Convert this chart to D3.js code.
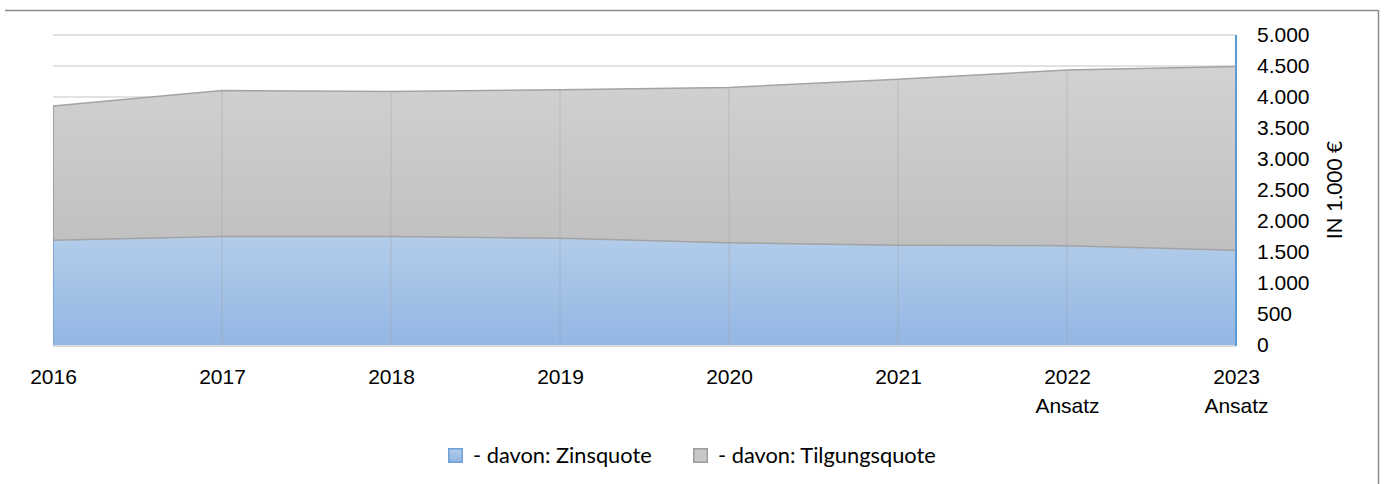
<!DOCTYPE html>
<html>
<head>
<meta charset="utf-8">
<script src="https://cdn.jsdelivr.net/npm/d3@7"></script>
<style>
  body { margin: 0; background: #fff; }
  svg { display: block; font-family: Lato, "Open Sans", sans-serif; }
  .axis path, .axis line { display: none; }
  .axis text { fill: #000; font-size: 21px; }
</style>
</head>
<body>
<div class="AreaChart"></div>
<script>
var years = ["2016", "2017", "2018", "2019", "2020", "2021", "2022", "2023"];
var yearNotes = ["", "", "", "", "", "", "Ansatz", "Ansatz"];
var zinsquote = [1690, 1750, 1750, 1720, 1650, 1610, 1600, 1530];
var tilgungsquote = [2165, 2355, 2340, 2395, 2505, 2675, 2835, 2960];
var yTicks = [0, 500, 1000, 1500, 2000, 2500, 3000, 3500, 4000, 4500, 5000];
var seriesNames = ["- davon: Zinsquote", "- davon: Tilgungsquote"];

var W = 1387, H = 484;
var margin = {top: 35, left: 53, right: W - 1236, bottom: H - 345};

var svg = d3.select(".AreaChart").append("svg")
    .attr("width", W)
    .attr("height", H);

var defs = svg.append("defs");
function grad(id, top, bottom) {
  var g = defs.append("linearGradient").attr("id", id)
      .attr("x1", 0).attr("y1", 0).attr("x2", 0).attr("y2", 1);
  g.append("stop").attr("offset", "0%").attr("stop-color", top);
  g.append("stop").attr("offset", "100%").attr("stop-color", bottom);
}
grad("gBlue", "#b3cdea", "#93b6e3");
grad("gGray", "#d2d2d2", "#c0c0c0");
grad("gBlueKey", "#b3cdea", "#93b6e3");

// chart frame (top and right edge only visible)
svg.append("line").attr("x1", 5).attr("x2", 1378).attr("y1", 10.5).attr("y2", 10.5)
    .attr("stroke", "#8c8c8c").attr("stroke-width", 1.5);
svg.append("line").attr("x1", 1378.5).attr("x2", 1378.5).attr("y1", 10).attr("y2", H)
    .attr("stroke", "#8c8c8c").attr("stroke-width", 1.5);

var x = d3.scalePoint().domain(years).range([margin.left, W - margin.right]);
var y = d3.scaleLinear().domain([0, 5000]).range([H - margin.bottom, margin.top]);

var de = d3.formatLocale({decimal: ",", thousands: ".", grouping: [3], currency: ["", " €"]});
var fmt = de.format(",d");

// horizontal gridlines
svg.append("g").selectAll("line")
    .data(yTicks)
    .enter().append("line")
    .attr("x1", x.range()[0]).attr("x2", x.range()[1])
    .attr("y1", function(d){ return y(d); }).attr("y2", function(d){ return y(d); })
    .attr("stroke", "#d9d9d9").attr("stroke-width", 1.5);

var table = years.map(function(yr, i){
  return {year: yr, zins: zinsquote[i], tilgung: tilgungsquote[i]};
});
var stacked = d3.stack().keys(["zins", "tilgung"])(table);

var area = d3.area()
    .x(function(d){ return x(d.data.year); })
    .y0(function(d){ return y(d[0]); })
    .y1(function(d){ return y(d[1]); });

var topLine = d3.line()
    .x(function(d){ return x(d.data.year); })
    .y(function(d){ return y(d[1]); });

svg.append("path").datum(stacked[0]).attr("d", area).attr("fill", "url(#gBlue)");
svg.append("path").datum(stacked[1]).attr("d", area).attr("fill", "url(#gGray)");

// vertical gridlines over areas
svg.append("g").selectAll("line")
    .data(years.slice(1, -1))
    .enter().append("line")
    .attr("x1", function(d){ return x(d); }).attr("x2", function(d){ return x(d); })
    .attr("y1", function(d, i){ return y(zinsquote[i + 1] + tilgungsquote[i + 1]); })
    .attr("y2", y(0))
    .attr("stroke", "#a0a0a0").attr("stroke-opacity", 0.45).attr("stroke-width", 1);

// series outlines
svg.append("line")
    .attr("x1", x(years[0]) + 0.5).attr("x2", x(years[0]) + 0.5)
    .attr("y1", y(zinsquote[0])).attr("y2", y(0))
    .attr("stroke", "#7fa6d8").attr("stroke-width", 1);
svg.append("line")
    .attr("x1", x(years[0]) + 0.5).attr("x2", x(years[0]) + 0.5)
    .attr("y1", y(zinsquote[0] + tilgungsquote[0])).attr("y2", y(zinsquote[0]))
    .attr("stroke", "#a0a0a0").attr("stroke-width", 1);
svg.append("path").datum(stacked[0]).attr("d", topLine)
    .attr("fill", "none").attr("stroke", "#a3a3a3").attr("stroke-width", 1.5);
svg.append("path").datum(stacked[1]).attr("d", topLine)
    .attr("fill", "none").attr("stroke", "#a3a3a3").attr("stroke-width", 1.5);

// baseline
svg.append("line")
    .attr("x1", x.range()[0]).attr("x2", x.range()[1])
    .attr("y1", y(0) + 1).attr("y2", y(0) + 1)
    .attr("stroke", "#d9d9d9").attr("stroke-width", 2);

// right axis line
svg.append("line")
    .attr("x1", x.range()[1]).attr("x2", x.range()[1])
    .attr("y1", y(5000)).attr("y2", y(0) + 1)
    .attr("stroke", "#5b9bd5").attr("stroke-width", 2);

// y axis on the right
var yAxis = d3.axisRight(y).tickValues(yTicks).tickFormat(fmt).tickSize(0).tickPadding(21);
svg.append("g")
    .attr("class", "axis")
    .attr("transform", "translate(" + x.range()[1] + ",0)")
    .call(yAxis);

svg.append("text")
    .attr("text-anchor", "middle")
    .attr("transform", "translate(1342," + ((y(0) + y(5000)) / 2) + ")rotate(-90)")
    .attr("font-size", 21)
    .text("IN 1.000 €");

// x axis
var xAxis = d3.axisBottom(x).tickSize(0).tickPadding(24);
var xg = svg.append("g")
    .attr("class", "axis")
    .attr("transform", "translate(0," + y(0) + ")")
    .call(xAxis);
xg.selectAll(".tick text").each(function(d, i){
  var t = d3.select(this);
  if (yearNotes[i]) {
    t.append("tspan").attr("x", 0).attr("dy", "1.4em").text(yearNotes[i]);
  }
});

// legend
var legend = svg.append("g").attr("transform", "translate(448,448)");
var keyX = [0, 245];
var keyFill = ["url(#gBlueKey)", "#c8c8c8"];
var keyStroke = ["#6e9fd6", "#9c9c9c"];
seriesNames.forEach(function(name, i){
  legend.append("rect")
      .attr("x", keyX[i] + 0.75).attr("y", 0.75)
      .attr("width", 13.5).attr("height", 13.5)
      .attr("fill", keyFill[i]).attr("stroke", keyStroke[i]).attr("stroke-width", 1.5);
  legend.append("text")
      .attr("x", keyX[i] + 25).attr("y", 15)
      .attr("font-size", 21.8)
      .text(name);
});
</script>
</body>
</html>
